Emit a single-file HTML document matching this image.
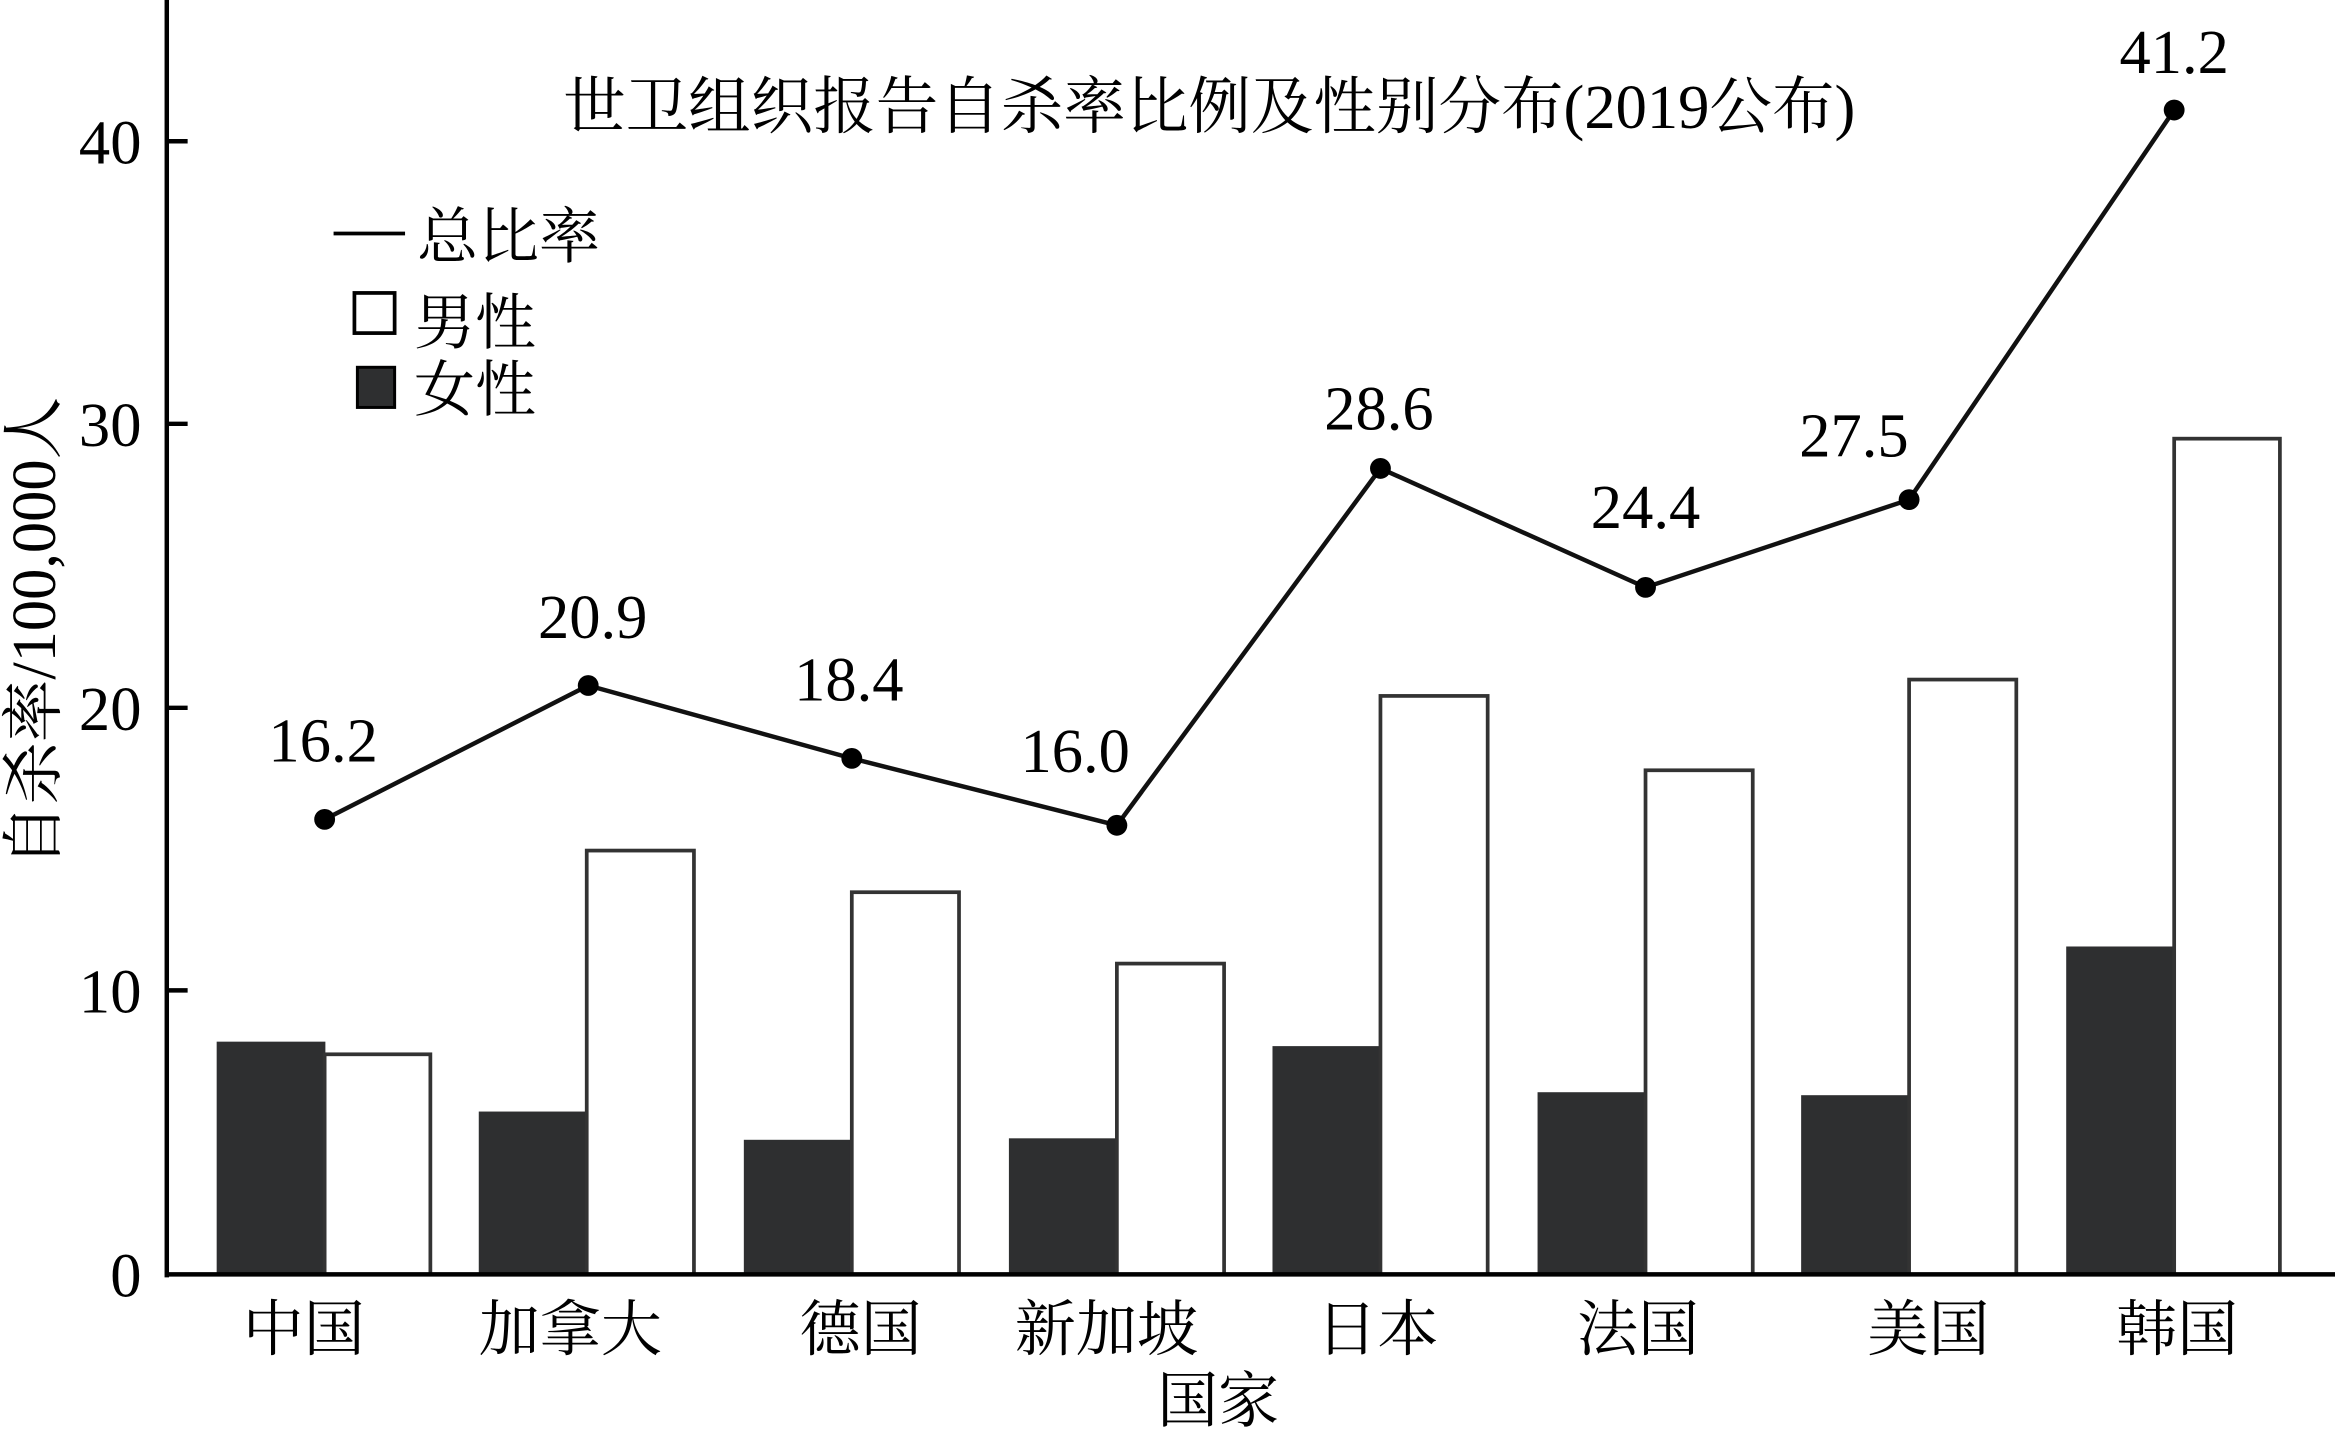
<!DOCTYPE html>
<html><head><meta charset="utf-8"><style>
html,body{margin:0;padding:0;background:#fff;width:2335px;height:1432px;overflow:hidden}
svg{display:block}
text{font-family:"Liberation Serif","Noto Serif CJK SC","Noto Sans CJK SC",serif;fill:#000}
</style></head><body>
<svg width="2335" height="1432" viewBox="0 0 1568 963" preserveAspectRatio="none">
<rect width="1568" height="963" fill="#fff"/>
<g fill="#2e2f30" stroke="#2e2f30" stroke-width="1">
<rect x="146" y="701" width="72" height="156"/>
<rect x="322" y="748" width="72" height="109"/>
<rect x="500" y="767" width="72" height="90"/>
<rect x="678" y="766" width="72" height="91"/>
<rect x="855" y="704" width="72" height="153"/>
<rect x="1033" y="735" width="72" height="122"/>
<rect x="1210" y="737" width="72" height="120"/>
<rect x="1388" y="637" width="72" height="220"/>
</g>
<g fill="#fff" stroke="#333" stroke-width="2.5">
<rect x="218" y="709" width="71" height="148"/>
<rect x="394" y="572" width="72" height="285"/>
<rect x="572" y="600" width="72" height="257"/>
<rect x="750" y="648" width="72" height="209"/>
<rect x="927" y="468" width="72" height="389"/>
<rect x="1105" y="518" width="72" height="339"/>
<rect x="1282" y="457" width="72" height="400"/>
<rect x="1460" y="295" width="71" height="562"/>
</g>
<g stroke="#000" stroke-width="3" fill="none">
<line x1="112" y1="0" x2="112" y2="859"/>
<line x1="111" y1="857" x2="1568" y2="857"/>
<line x1="112" y1="95" x2="126" y2="95"/>
<line x1="112" y1="285" x2="126" y2="285"/>
<line x1="112" y1="476" x2="126" y2="476"/>
<line x1="112" y1="666" x2="126" y2="666"/>
</g>
<g font-size="42" text-anchor="end">
<text x="95" y="110">40</text>
<text x="95" y="300">30</text>
<text x="95" y="491">20</text>
<text x="95" y="681">10</text>
<text x="95" y="872">0</text>
</g>
<text transform="translate(37,425) rotate(-90)" font-size="42" text-anchor="middle">自杀率/100,000人</text>
<text x="812" y="86" font-size="42" text-anchor="middle">世卫组织报告自杀率比例及性别分布(2019公布)</text>
<line x1="224" y1="157" x2="272" y2="157" stroke="#000" stroke-width="2.5"/>
<text x="280" y="173" font-size="41">总比率</text>
<rect x="238" y="197" width="27" height="27" fill="#fff" stroke="#000" stroke-width="2.5"/>
<text x="278" y="231" font-size="41">男性</text>
<rect x="240" y="247" width="25" height="27" fill="#2e2f30" stroke="#000" stroke-width="2"/>
<text x="278" y="276" font-size="41">女性</text>
<polyline points="218,551 395,461 572,510 750,555 927,315 1105,395 1282,336 1460,74" fill="none" stroke="#111" stroke-width="3"/>
<g fill="#000">
<circle cx="218" cy="551" r="7"/><circle cx="395" cy="461" r="7"/><circle cx="572" cy="510" r="7"/><circle cx="750" cy="555" r="7"/>
<circle cx="927" cy="315" r="7"/><circle cx="1105" cy="395" r="7"/><circle cx="1282" cy="336" r="7"/><circle cx="1460" cy="74" r="7"/>
</g>
<g font-size="42" text-anchor="middle">
<text x="217" y="512">16.2</text>
<text x="398" y="429">20.9</text>
<text x="570" y="471">18.4</text>
<text x="722" y="519">16.0</text>
<text x="926" y="289">28.6</text>
<text x="1105" y="355">24.4</text>
<text x="1245" y="307">27.5</text>
<text x="1460" y="49">41.2</text>
</g>
<g font-size="41" text-anchor="middle">
<text x="204" y="908">中国</text>
<text x="383" y="908">加拿大</text>
<text x="578" y="908">德国</text>
<text x="743" y="908">新加坡</text>
<text x="925" y="908">日本</text>
<text x="1100" y="908">法国</text>
<text x="1295" y="908">美国</text>
<text x="1462" y="908">韩国</text>
<text x="818" y="956">国家</text>
</g>
</svg>
</body></html>
